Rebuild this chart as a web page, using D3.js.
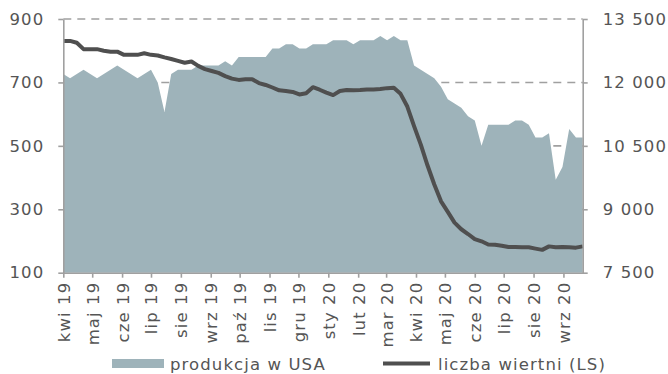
<!DOCTYPE html>
<html lang="pl">
<head>
<meta charset="utf-8">
<script src="https://cdn.jsdelivr.net/npm/d3@7"></script>
<style>
  html, body { margin: 0; padding: 0; background: #fff; }
  svg text { font-family: "DejaVu Sans", Verdana, sans-serif; fill: #555; }
</style>
</head>
<body>
<svg id="chart" width="668" height="374"></svg>
<script>
// Weekly series, first week ending 5 April 2019
const firstWeek = new Date(2019, 3, 5);

// US crude production, thousand barrels per day (right scale)
const production = [
  12200, 12100, 12200, 12300, 12200, 12100, 12200, 12300, 12400, 12300,
  12200, 12100, 12200, 12300, 12000, 11300, 12200, 12300, 12300, 12300,
  12400, 12400, 12400, 12400, 12500, 12400, 12600, 12600, 12600, 12600,
  12600, 12800, 12800, 12900, 12900, 12800, 12800, 12900, 12900, 12900,
  13000, 13000, 13000, 12900, 13000, 13000, 13000, 13100, 13000, 13100,
  13000, 13000, 12400, 12300, 12200, 12100, 11900, 11600, 11500, 11400,
  11200, 11100, 10500, 11000, 11000, 11000, 11000, 11100, 11100, 11000,
  10700, 10700, 10800, 9700, 10000, 10900, 10700, 10700
];

// Active oil rigs (left scale)
const rigs = [
  831, 831, 825, 805, 805, 805, 800, 797, 797, 787,
  787, 787, 792, 787, 785, 779, 774, 768, 762, 766,
  752, 742, 736, 730, 720, 712, 708, 710, 710, 698,
  692, 684, 675, 673, 670, 662, 666, 685, 677, 668,
  660, 673, 676, 675, 676, 678, 678, 679, 682, 683,
  664, 624, 562, 504, 438, 378, 325, 292, 258, 237,
  222, 206, 199, 189, 188, 185, 181, 181, 180, 180,
  176, 172, 183, 180, 181, 180, 179, 183
];

const tickLabels = [
  "kwi 19", "maj 19", "cze 19", "lip 19", "sie 19", "wrz 19",
  "paź 19", "lis 19", "gru 19", "sty 20", "lut 20", "mar 20",
  "kwi 20", "maj 20", "cze 20", "lip 20", "sie 20", "wrz 20"
];
const leftTicks = [100, 300, 500, 700, 900];
const rightTicks = [7500, 9000, 10500, 12000, 13500];
const seriesNames = ["produkcja w USA", "liczba wiertni (LS)"];

const weeks = rigs.map((_, i) => d3.timeDay.offset(firstWeek, 7 * i));
const rows = weeks.map((d, i) => ({ date: d, prod: production[i], rig: rigs[i] }));

const W = 668, H = 374;
const m = { top: 19, right: 85.3, bottom: 101.3, left: 63.3 };
const iw = W - m.left - m.right, ih = H - m.top - m.bottom;

const svg = d3.select("#chart");
const g = svg.append("g").attr("transform", `translate(${m.left},${m.top})`);

const x = d3.scaleTime().domain([weeks[0], weeks[weeks.length - 1]]).range([0, iw]);
const yL = d3.scaleLinear().domain([100, 900]).range([ih, 0]);
const yR = d3.scaleLinear().domain([7500, 13500]).range([ih, 0]);

const axisColor = "#a0a0a0";
const fontSize = "16.5px";
const spacing = "1.1px";

// dashed gridlines
g.append("g").selectAll("line")
  .data(leftTicks.filter(v => v > 100))
  .join("line")
  .attr("x1", 0).attr("x2", iw)
  .attr("y1", d => yL(d)).attr("y2", d => yL(d))
  .attr("stroke", axisColor).attr("stroke-width", 1.6)
  .attr("stroke-dasharray", "8,6");

// production area
g.append("path")
  .datum(rows)
  .attr("fill", "#9eb3ba")
  .attr("d", d3.area().x(d => x(d.date)).y0(ih).y1(d => yR(d.prod)));

// rig count line
g.append("path")
  .datum(rows)
  .attr("fill", "none")
  .attr("stroke", "#4f4f4f")
  .attr("stroke-width", 4)
  .attr("stroke-linejoin", "round")
  .attr("d", d3.line().x(d => x(d.date)).y(d => yL(d.rig)));

const fmt = d3.formatLocale({ decimal: ",", thousands: " ", grouping: [3], currency: ["", " zł"] }).format(",.0f");

function styleAxis(sel) {
  sel.select(".domain").attr("stroke", axisColor).attr("stroke-width", 1.6);
  sel.selectAll(".tick line").attr("stroke", axisColor).attr("stroke-width", 1.6);
  sel.selectAll("text")
    .style("font-size", fontSize)
    .style("letter-spacing", spacing)
    .attr("fill", "#555");
}

// left axis
const axL = g.append("g")
  .call(d3.axisLeft(yL).tickValues(leftTicks).tickSize(5).tickSizeOuter(0).tickPadding(14).tickFormat(d3.format("d")));
styleAxis(axL);

// right axis
const axR = g.append("g")
  .attr("transform", `translate(${iw},0)`)
  .call(d3.axisRight(yR).tickValues(rightTicks).tickSize(5).tickSizeOuter(0).tickPadding(15).tickFormat(fmt));
styleAxis(axR);

// bottom axis with monthly ticks from the first week
const tickDates = tickLabels.map((_, i) => d3.timeMonth.offset(weeks[0], i));
const axB = g.append("g")
  .attr("transform", `translate(0,${ih})`)
  .call(d3.axisBottom(x).tickValues(tickDates).tickSize(5).tickSizeOuter(0)
    .tickFormat((d, i) => tickLabels[i]));
styleAxis(axB);
axB.selectAll("text")
  .attr("text-anchor", "end")
  .attr("transform", "rotate(-90)")
  .attr("x", -9)
  .attr("y", 0)
  .attr("dy", "0.36em");

// legend
const lg = svg.append("g");
lg.append("rect").attr("x", 112).attr("y", 359).attr("width", 52).attr("height", 9).attr("fill", "#9eb3ba");
lg.append("text").attr("x", 170).attr("y", 369.5).text(seriesNames[0])
  .style("font-size", fontSize).style("letter-spacing", spacing);
lg.append("line").attr("x1", 383).attr("x2", 430).attr("y1", 363.5).attr("y2", 363.5)
  .attr("stroke", "#4f4f4f").attr("stroke-width", 4);
lg.append("text").attr("x", 438).attr("y", 369.5).text(seriesNames[1])
  .style("font-size", fontSize).style("letter-spacing", spacing);
</script>
</body>
</html>
